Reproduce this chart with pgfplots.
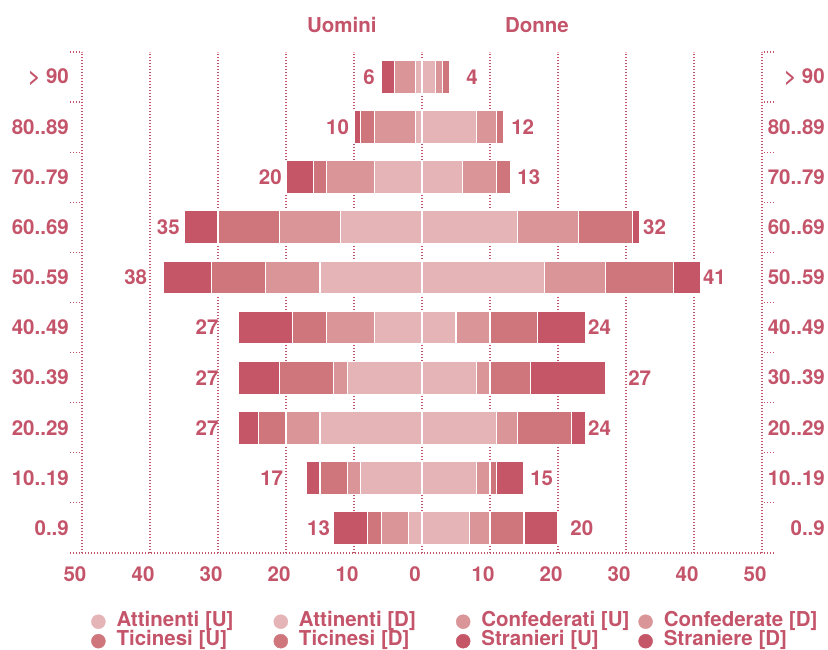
\documentclass[border=0pt]{standalone}
\usepackage{fontspec}
\setmainfont{TeX Gyre Heros}
\usepackage{pgfplots}
\pgfplotsset{compat=1.18}
\usepackage{pgfplotstable}

\definecolor{txt}{HTML}{C4546A}
\definecolor{cA}{HTML}{E5B4B6}
\definecolor{cC}{HTML}{D99597}
\definecolor{cT}{HTML}{CF767C}
\definecolor{cS}{HTML}{C55668}
\newcommand\ff{\bfseries\fontsize{20.5bp}{24bp}\selectfont}
\newcommand\legtxt[1]{\makebox[151bp][l]{#1}}

% y: 0 = 0..9 ... 9 = > 90 ; A Attinenti, C Confederati, T Ticinesi, S Stranieri
\pgfplotstableread{
y A  C T  S
0 2  4 2  5
1 9  2 4  2
2 15 5 4  3
3 11 2 8  6
4 7  7 5  8
5 15 8 8  7
6 12 9 9  5
7 7  7 2  4
8 1  6 2  1
9 1  3 0  2
}\uomini

\pgfplotstableread{
y A  C T  S
0 7  3 5  5
1 8  2 1  4
2 11 3 8  2
3 8  2 6  11
4 5  5 7  7
5 18 9 10 4
6 14 9 8  1
7 6  5 2  0
8 8  3 1  0
9 2  1 1  0
}\donne

\tikzset{lab/.style={inner sep=0pt, font=\ff, text=txt}}

\pgfplotsset{
  pyr/.style={
    width=680bp, height=501bp, scale only axis, clip=false,
    xmin=-50, xmax=50, ymin=-0.5, ymax=9.5,
    xbar stacked, bar width=33bp,
    ytick={0,...,9},
    yticklabels={0..9,10..19,20..29,30..39,40..49,50..59,60..69,70..79,80..89,> 90},
    minor ytick={-0.5,0.5,...,9.5},
    major tick length=0pt, minor tick length=12bp, tick align=outside,
    tick style={txt, line width=1.2bp, dash pattern=on 1.5bp off 1.5bp},
    axis line style={-, txt, line width=1.2bp, dash pattern=on 1.5bp off 1.5bp},
    every tick label/.append style={font=\ff, text=txt, inner sep=0pt},
    /pgf/number format/assume math mode=true,
  },
  seg/.style={fill=#1, draw=white, line width=1.2bp},
}

\begin{document}
\begin{tikzpicture}[font=\ff]
\begin{axis}[pyr, name=men,
  axis x line*=bottom, axis y line*=left,
  xtick pos=bottom, ytick pos=left,
  xtick={-50,-40,...,50},
  xmajorgrids,
  grid style={txt, line width=1.2bp, dash pattern=on 1.5bp off 1.5bp},
  xticklabel={\pgfmathparse{abs(\tick)}\pgfmathprintnumber{\pgfmathresult}},
  xticklabel style={anchor=base, yshift=-28bp, xshift=-7bp},
  yticklabel style={anchor=east, xshift=-13bp},
]
\addplot[seg=cA] table[x expr=-\thisrow{A}, y=y] {\uomini};
\addplot[seg=cC] table[x expr=-\thisrow{C}, y=y] {\uomini};
\addplot[seg=cT] table[x expr=-\thisrow{T}, y=y] {\uomini};
\addplot[seg=cS] table[x expr=-\thisrow{S}, y=y] {\uomini};

\node[lab, anchor=east] at (axis cs:-6.9,9) {6};
\node[lab, anchor=east] at (axis cs:-10.7,8) {10};
\node[lab, anchor=east] at (axis cs:-20.6,7) {20};
\node[lab, anchor=east] at (axis cs:-35.6,6) {35};
\node[lab, anchor=east] at (axis cs:-40.4,5) {38};
\node[lab, anchor=east] at (axis cs:-29.9,4) {27};
\node[lab, anchor=east] at (axis cs:-29.9,3) {27};
\node[lab, anchor=east] at (axis cs:-29.9,2) {27};
\node[lab, anchor=east] at (axis cs:-20.4,1) {17};
\node[lab, anchor=east] at (axis cs:-13.5,0) {13};

\node[lab, anchor=base, yshift=19bp] at (axis cs:-11.8,9.5) {Uomini};
\node[lab, anchor=base, yshift=19bp] at (axis cs:16.9,9.5) {Donne};
\end{axis}

\begin{axis}[pyr,
  axis x line=none, axis y line*=right,
  ytick pos=right, yticklabel pos=right,
  xtick=\empty,
  yticklabel style={anchor=east, xshift=63bp},
  legend columns=4,
  legend cell align=left,
  legend style={draw=none, fill=none, inner sep=0pt, row sep=2.5bp,
    column sep=11bp,
    at={(axis description cs:0,0)}, anchor=north west,
    xshift=9bp, yshift=-60bp,
    nodes={inner sep=0pt, text height=13bp, text depth=4bp, font=\ff, text=txt},
    /tikz/every even column/.append style={column sep=6bp}},
]
\addlegendimage{legend image code/.code={\fill[cA] (7bp,0bp) circle (7bp);}}
\addlegendentry{\legtxt{Attinenti [U]}}
\addlegendimage{legend image code/.code={\fill[cA] (7bp,0bp) circle (7bp);}}
\addlegendentry{\legtxt{Attinenti [D]}}
\addlegendimage{legend image code/.code={\fill[cC] (7bp,0bp) circle (7bp);}}
\addlegendentry{\legtxt{Confederati [U]}}
\addlegendimage{legend image code/.code={\fill[cC] (7bp,0bp) circle (7bp);}}
\addlegendentry{\legtxt{Confederate [D]}}
\addlegendimage{legend image code/.code={\fill[cT] (7bp,0bp) circle (7bp);}}
\addlegendentry{\legtxt{Ticinesi [U]}}
\addlegendimage{legend image code/.code={\fill[cT] (7bp,0bp) circle (7bp);}}
\addlegendentry{\legtxt{Ticinesi [D]}}
\addlegendimage{legend image code/.code={\fill[cS] (7bp,0bp) circle (7bp);}}
\addlegendentry{\legtxt{Stranieri [U]}}
\addlegendimage{legend image code/.code={\fill[cS] (7bp,0bp) circle (7bp);}}
\addlegendentry{\legtxt{Straniere [D]}}

\addplot[seg=cA, forget plot] table[x=A, y=y] {\donne};
\addplot[seg=cC, forget plot] table[x=C, y=y] {\donne};
\addplot[seg=cT, forget plot] table[x=T, y=y] {\donne};
\addplot[seg=cS, forget plot] table[x=S, y=y] {\donne};

\node[lab, anchor=west] at (axis cs:6.5,9) {4};
\node[lab, anchor=west] at (axis cs:13.1,8) {12};
\node[lab, anchor=west] at (axis cs:14.0,7) {13};
\node[lab, anchor=west] at (axis cs:32.5,6) {32};
\node[lab, anchor=west] at (axis cs:41.3,5) {41};
\node[lab, anchor=west] at (axis cs:24.4,4) {24};
\node[lab, anchor=west] at (axis cs:30.3,3) {27};
\node[lab, anchor=west] at (axis cs:24.4,2) {24};
\node[lab, anchor=west] at (axis cs:15.9,1) {15};
\node[lab, anchor=west] at (axis cs:21.8,0) {20};
\end{axis}
\pgfresetboundingbox
\path (men.south west) ++(-82bp,-97bp) rectangle ++(828bp,650bp);
\end{tikzpicture}
\end{document}
